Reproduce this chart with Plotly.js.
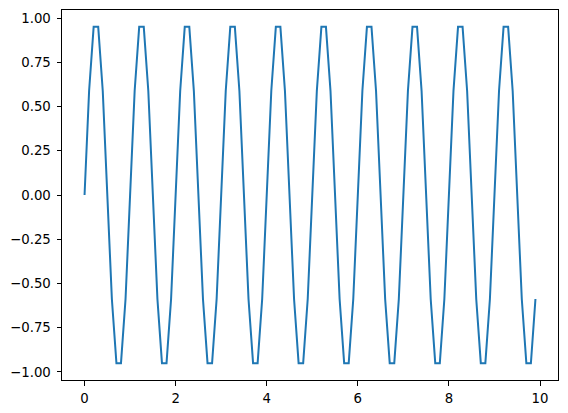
<!DOCTYPE html>
<html>
<head>
<meta charset="utf-8">
<script src="https://cdn.plot.ly/plotly-3.0.1.min.js"></script>
<style>html,body{margin:0;padding:0;background:#fff;}#chart{width:568px;height:413px;}</style>
</head>
<body>
<div id="chart"></div>
<script>
const xValues = [
  0.0, 0.1, 0.2, 0.3, 0.4, 0.5, 0.6, 0.7, 0.8, 0.9,
  1.0, 1.1, 1.2, 1.3, 1.4, 1.5, 1.6, 1.7, 1.8, 1.9,
  2.0, 2.1, 2.2, 2.3, 2.4, 2.5, 2.6, 2.7, 2.8, 2.9,
  3.0, 3.1, 3.2, 3.3, 3.4, 3.5, 3.6, 3.7, 3.8, 3.9,
  4.0, 4.1, 4.2, 4.3, 4.4, 4.5, 4.6, 4.7, 4.8, 4.9,
  5.0, 5.1, 5.2, 5.3, 5.4, 5.5, 5.6, 5.7, 5.8, 5.9,
  6.0, 6.1, 6.2, 6.3, 6.4, 6.5, 6.6, 6.7, 6.8, 6.9,
  7.0, 7.1, 7.2, 7.3, 7.4, 7.5, 7.6, 7.7, 7.8, 7.9,
  8.0, 8.1, 8.2, 8.3, 8.4, 8.5, 8.6, 8.7, 8.8, 8.9,
  9.0, 9.1, 9.2, 9.3, 9.4, 9.5, 9.6, 9.7, 9.8, 9.9
];
const yValues = [
  0.0, 0.588, 0.951, 0.951, 0.588, 0.0, -0.588, -0.951, -0.951, -0.588,
  0.0, 0.588, 0.951, 0.951, 0.588, 0.0, -0.588, -0.951, -0.951, -0.588,
  0.0, 0.588, 0.951, 0.951, 0.588, 0.0, -0.588, -0.951, -0.951, -0.588,
  0.0, 0.588, 0.951, 0.951, 0.588, 0.0, -0.588, -0.951, -0.951, -0.588,
  0.0, 0.588, 0.951, 0.951, 0.588, 0.0, -0.588, -0.951, -0.951, -0.588,
  0.0, 0.588, 0.951, 0.951, 0.588, 0.0, -0.588, -0.951, -0.951, -0.588,
  0.0, 0.588, 0.951, 0.951, 0.588, 0.0, -0.588, -0.951, -0.951, -0.588,
  0.0, 0.588, 0.951, 0.951, 0.588, 0.0, -0.588, -0.951, -0.951, -0.588,
  0.0, 0.588, 0.951, 0.951, 0.588, 0.0, -0.588, -0.951, -0.951, -0.588,
  0.0, 0.588, 0.951, 0.951, 0.588, 0.0, -0.588, -0.951, -0.951, -0.588
];
const xTicks = [0, 2, 4, 6, 8, 10];
const xTickLabels = ['0', '2', '4', '6', '8', '10'];
const yTicks = [-1.0, -0.75, -0.5, -0.25, 0.0, 0.25, 0.5, 0.75, 1.0];
const yTickLabels = ['\u22121.00', '\u22120.75', '\u22120.50', '\u22120.25', '0.00', '0.25', '0.50', '0.75', '1.00'];

const trace = {
  x: xValues, y: yValues, type: 'scatter', mode: 'lines',
  line: {color: '#1f77b4', width: 2}, hoverinfo: 'skip'
};
const axisCommon = {
  showgrid: false, zeroline: false, showline: true, mirror: true,
  linecolor: '#000', linewidth: 1, ticks: 'outside', ticklen: 4.5,
  tickwidth: 1, tickcolor: '#000', tickmode: 'array',
  tickfont: {family: 'DejaVu Sans', size: 13.3, color: '#000'}
};
const layout = {
  width: 568, height: 413,
  margin: {l: 62, r: 10, t: 10, b: 33},
  paper_bgcolor: '#fff', plot_bgcolor: '#fff', showlegend: false,
  xaxis: Object.assign({}, axisCommon, {range: [-0.495, 10.395], tickvals: xTicks, ticktext: xTickLabels, ticklabelstandoff: 2}),
  yaxis: Object.assign({}, axisCommon, {range: [-1.0461, 1.0461], tickvals: yTicks, ticktext: yTickLabels, ticklabelstandoff: 3})
};
Plotly.newPlot('chart', [trace], layout, {staticPlot: true, displayModeBar: false});
</script>
</body>
</html>
